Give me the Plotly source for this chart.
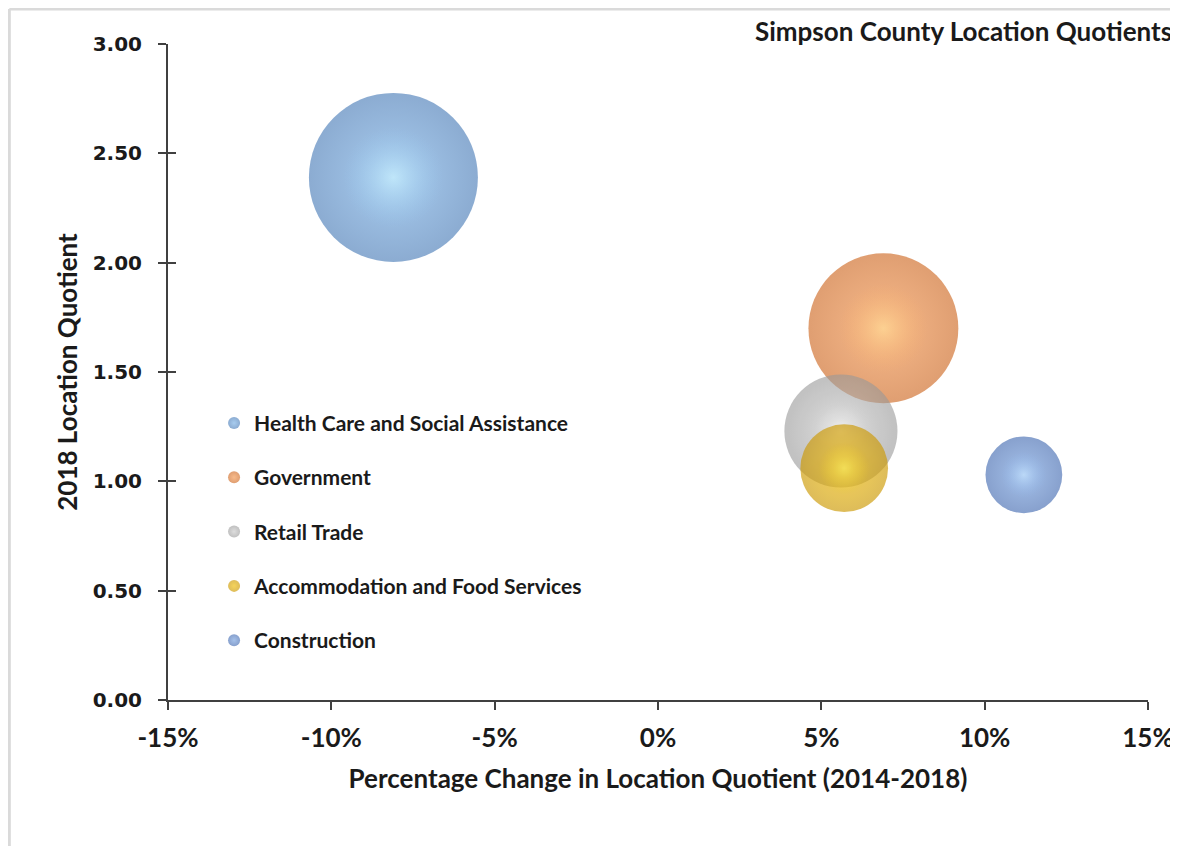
import plotly.graph_objects as go

# ---- data ----
industries = [
    "Health Care and Social Assistance",
    "Government",
    "Retail Trade",
    "Accommodation and Food Services",
    "Construction",
]
pct_change_2014_2018 = [-0.081, 0.069, 0.056, 0.057, 0.112]
location_quotient_2018 = [2.39, 1.70, 1.23, 1.06, 1.03]
bubble_size = [28.6, 22.5, 12.8, 7.7, 5.9]

x_tick_values = [-0.15, -0.10, -0.05, 0.0, 0.05, 0.10, 0.15]
x_tick_labels = ["-15%", "-10%", "-5%", "0%", "5%", "10%", "15%"]
y_tick_values = [0.0, 0.5, 1.0, 1.5, 2.0, 2.5, 3.0]
y_tick_labels = ["0.00", "0.50", "1.00", "1.50", "2.00", "2.50", "3.00"]

# ---- styles ----
edge_colors = ["#5A88BE", "#D27535", "#999999", "#CC9800", "#5478B8"]
center_colors = ["#82B6E8", "#F49C58", "#C8C8C8", "#F0BC00", "#7EA6E0"]
highlight_colors = [
    "rgba(205,245,255,0.9)",
    "rgba(255,222,150,0.9)",
    "rgba(255,255,255,0.95)",
    "rgba(255,244,100,0.9)",
    "rgba(200,230,255,0.9)",
]
highlight_fade = [
    "rgba(150,200,240,0)",
    "rgba(248,170,100,0)",
    "rgba(215,215,215,0)",
    "rgba(245,205,30,0)",
    "rgba(140,180,235,0)",
]
opacities = [1.0, 1.0, 0.87, 0.92, 1.0]
highlight_area_fraction = 0.36

max_diameter_px = 169
sizeref = 2.0 * max(bubble_size) / (max_diameter_px ** 2)

label_font = "Lato, 'Open Sans', sans-serif"
ink = "#1a1a1a"
axis_col = "#404040"

fig = go.Figure()
for i, name in enumerate(industries):
    fig.add_trace(go.Scatter(
        x=[pct_change_2014_2018[i]],
        y=[location_quotient_2018[i]],
        mode="markers",
        name=name,
        legendgroup=f"g{i}",
        opacity=opacities[i],
        marker=dict(
            size=[bubble_size[i]],
            sizemode="area",
            sizeref=sizeref,
            color=edge_colors[i],
            gradient=dict(type="radial", color=center_colors[i]),
            line=dict(width=0),
        ),
        hovertemplate=name + "<br>%{x:.1%}<br>%{y:.2f}<extra></extra>",
    ))
    # soft specular highlight on the same bubble (styling only)
    fig.add_trace(go.Scatter(
        x=[pct_change_2014_2018[i]],
        y=[location_quotient_2018[i]],
        mode="markers",
        name=name,
        legendgroup=f"g{i}",
        showlegend=False,
        hoverinfo="skip",
        opacity=opacities[i],
        marker=dict(
            size=[bubble_size[i] * highlight_area_fraction],
            sizemode="area",
            sizeref=sizeref,
            color=highlight_fade[i],
            gradient=dict(type="radial", color=highlight_colors[i]),
            line=dict(width=0),
        ),
    ))

fig.update_layout(
    width=1178,
    height=846,
    margin=dict(l=160, r=36, t=36, b=154),
    paper_bgcolor="white",
    plot_bgcolor="white",
    showlegend=True,
    legend=dict(
        x=0.047,
        y=0.453,
        xanchor="left",
        yanchor="top",
        itemsizing="constant",
        tracegroupgap=24,
        font=dict(family=label_font, size=21, color=ink, weight="bold"),
        bgcolor="rgba(0,0,0,0)",
    ),
    xaxis=dict(
        range=[-0.15, 0.15],
        tickvals=x_tick_values,
        ticktext=x_tick_labels,
        showgrid=False,
        zeroline=False,
        showline=True,
        linecolor=axis_col,
        linewidth=2,
        ticks="outside",
        ticklen=8,
        tickwidth=1.5,
        tickcolor=axis_col,
        ticklabelstandoff=6,
        tickfont=dict(family=label_font, size=26, color=ink, weight="bold"),
        title=dict(
            text="Percentage Change in Location Quotient (2014-2018)",
            font=dict(family=label_font, size=26, color=ink, weight="bold"),
            standoff=18,
        ),
    ),
    yaxis=dict(
        range=[0, 3],
        tickvals=y_tick_values,
        ticktext=y_tick_labels,
        showgrid=False,
        zeroline=False,
        showline=True,
        linecolor=axis_col,
        linewidth=2,
        ticks="outside",
        ticklen=8,
        tickwidth=1.5,
        tickcolor=axis_col,
        ticklabelstandoff=12,
        tickfont=dict(family="'DejaVu Sans', sans-serif", size=20, color=ink, weight="bold"),
        title=dict(
            text="2018 Location Quotient",
            font=dict(family=label_font, size=26, color=ink, weight="bold"),
            standoff=8,
        ),
    ),
    # second y axis only to draw the inner half of the crossing tick marks
    yaxis2=dict(
        range=[0, 3],
        overlaying="y",
        side="left",
        tickvals=y_tick_values,
        showticklabels=False,
        ticks="inside",
        ticklen=8,
        tickwidth=1.5,
        tickcolor=axis_col,
        showgrid=False,
        zeroline=False,
        showline=False,
    ),
    annotations=[
        dict(
            text="Simpson County Location Quotients",
            xref="paper", yref="paper",
            x=0.597, y=1.02,
            xanchor="left", yanchor="middle",
            showarrow=False,
            font=dict(family=label_font, size=26, color=ink, weight="bold"),
        )
    ],
    shapes=[
        dict(type="line", xref="paper", yref="paper",
             x0=-0.1619, x1=-0.1619, y0=1.0534, y1=-0.25,
             line=dict(color="#DADADA", width=3)),
        dict(type="line", xref="paper", yref="paper",
             x0=-0.1619, x1=1.06, y0=1.0534, y1=1.0534,
             line=dict(color="#DADADA", width=3)),
    ],
)

# invisible trace so that yaxis2 (inner tick halves) is drawn
fig.add_trace(go.Scatter(x=[None], y=[None], yaxis="y2", showlegend=False, hoverinfo="skip"))

fig.write_html("out.html")
